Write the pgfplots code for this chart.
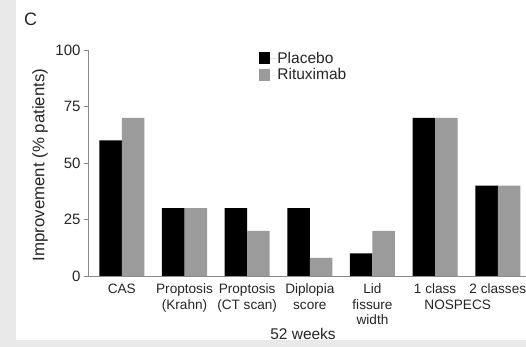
\documentclass[border=0pt]{standalone}
\usepackage{pgfplots}
\pgfplotsset{compat=1.18}
\usepackage{fontspec}
\setmainfont{Liberation Sans}
\definecolor{bargray}{HTML}{9B9B9B}
\definecolor{axgray}{HTML}{8A8A8A}
\definecolor{txt}{HTML}{262626}
\definecolor{bgleft}{HTML}{E9E9E9}
\begin{document}
\begin{tikzpicture}
\useasboundingbox (0,0) rectangle (526pt,347pt);
\fill[bgleft] (0,0) rectangle (526pt,347pt);
\fill[white] (16pt,7pt) rectangle (526pt,347pt);
\node[anchor=base west, font=\fontsize{18}{20}\selectfont, text=txt, inner sep=0pt] at (24pt,321pt) {C};
\begin{axis}[
  at={(88pt,71pt)}, anchor=south west,
  scale only axis, width=438pt, height=226pt,
  xmin=-0.54, xmax=6.45, ymin=0, ymax=100,
  axis x line=bottom, axis y line=left,
  axis line style={axgray, -, line width=0.8pt},
  ybar=0pt, bar width=22.5pt,
  xtick={0,1,2,3,4,5,6},
  xticklabels={CAS, Proptosis\\(Krahn), Proptosis\\(CT scan), Diplopia\\score, Lid\\fissure\\width, 1 class, 2 classes},
  x tick style={draw=none},
  xticklabel style={font=\fontsize{13.6}{15.7}\selectfont, align=center, text=txt},
  ytick={0,25,50,75,100},
  y tick style={axgray, line width=0.8pt},
  tick align=outside, major tick length=4pt,
  /pgf/number format/assume math mode=true,
  yticklabel style={font=\fontsize{15}{17}\selectfont, text=txt},
  ylabel={Improvement (\% patients)},
  ylabel style={at={(axis description cs:-0.1096,0.491)}, anchor=center, font=\fontsize{16.8}{18}\selectfont, text=txt},
  xlabel={52 weeks},
  xlabel style={at={(axis description cs:0.4909,0)}, anchor=center, yshift=-58pt, font=\fontsize{15.5}{17}\selectfont, text=txt},
  clip=false,
  legend style={draw=none, fill=none, at={(axis description cs:0.384,1.01)}, anchor=north west, font=\fontsize{15.5}{17}\selectfont, text=txt, row sep=0pt, nodes={inner sep=2pt}},
  legend cell align=left,
  legend image code/.code={\fill[#1] (0pt,-5.5pt) rectangle (11pt,6pt); \path (0pt,0pt) -- (16pt,0pt);},
]
\addplot[fill=black, draw=none] coordinates {(0,60) (1,30) (2,30) (3,30) (4,10) (5,70) (6,40)};
\addplot[fill=bargray, draw=none] coordinates {(0,70) (1,30) (2,20) (3,8) (4,20) (5,70) (6,40)};
\legend{Placebo, Rituximab}
\node[font=\fontsize{13.6}{15.7}\selectfont, text=txt, anchor=center] at (axis cs:5.36,0) [yshift=-29pt] {NOSPECS};
\end{axis}
\end{tikzpicture}
\end{document}
